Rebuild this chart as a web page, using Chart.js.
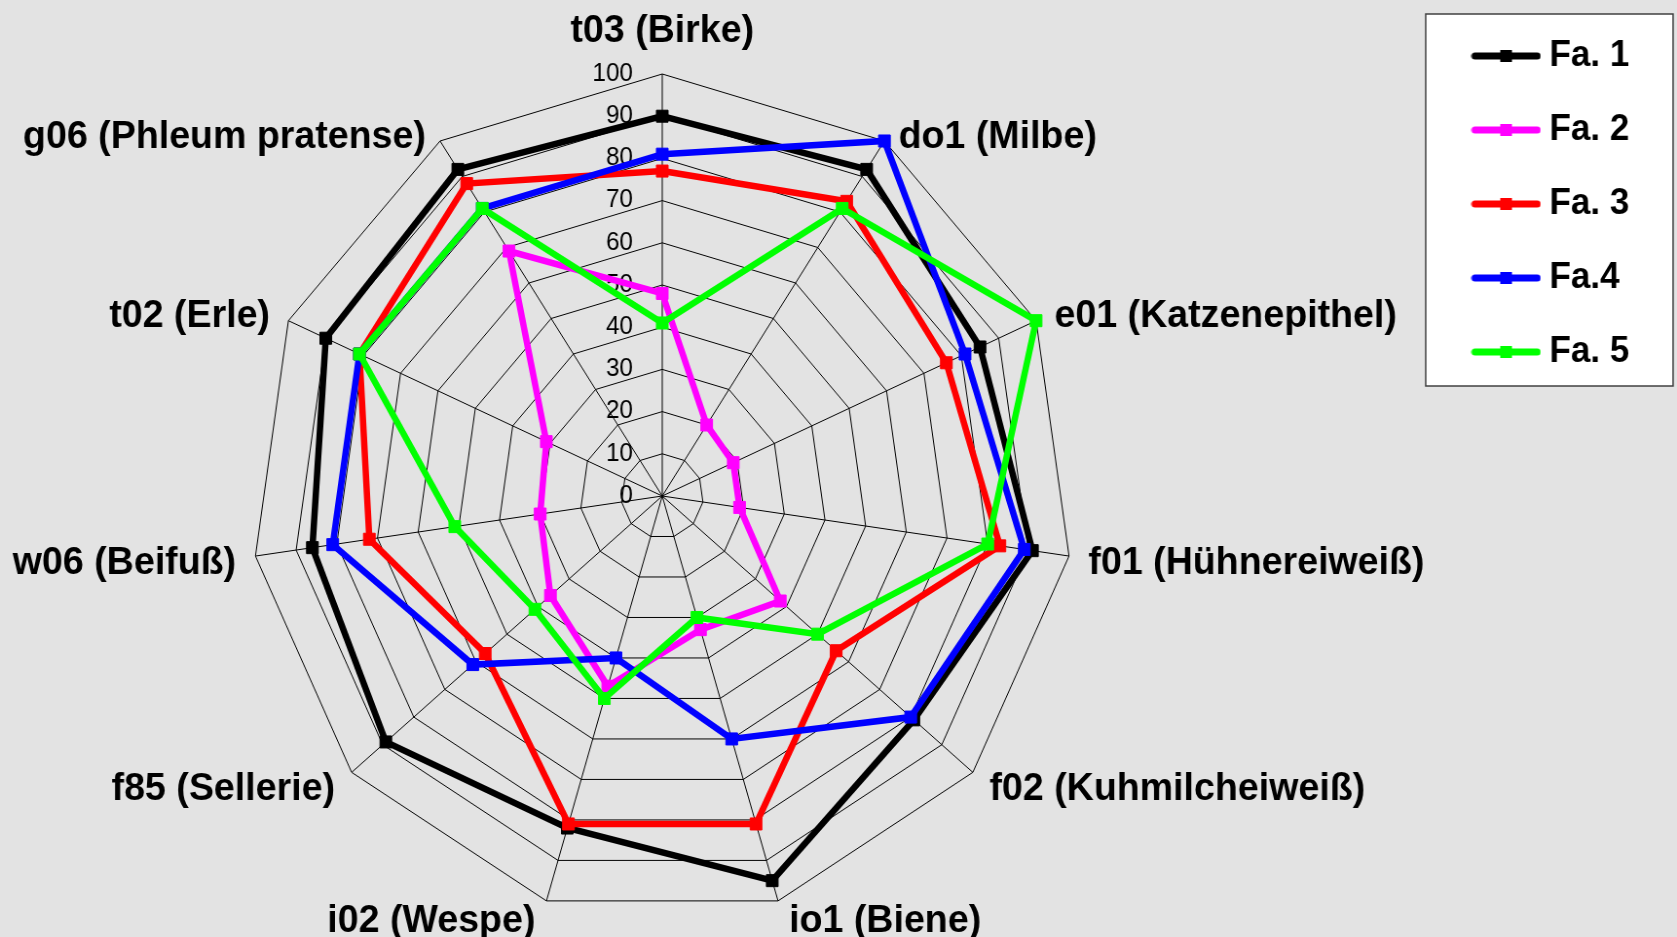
<!DOCTYPE html>
<html>
<head>
<meta charset="utf-8">
<title>Allergene Fa. 1 - 5</title>
<script src="https://cdn.jsdelivr.net/npm/chart.js@4.4.1/dist/chart.umd.min.js"></script>
<style>
  html, body { margin: 0; padding: 0; background: #e3e3e3; overflow: hidden; }
  canvas { display: block; }
</style>
</head>
<body>
<canvas id="myChart" width="1722" height="937" style="width:1677px;height:937px"></canvas>
<script>
const labels = ['t03 (Birke)', 'do1 (Milbe)', 'e01 (Katzenepithel)', 'f01 (Hühnereiweiß)', 'f02 (Kuhmilcheiweiß)',
    'io1 (Biene)', 'i02 (Wespe)', 'f85 (Sellerie)', 'w06 (Beifuß)', 't02 (Erle)', 'g06 (Phleum pratense)'];
const fa1 = [90, 92, 85, 91, 81, 95, 82, 89, 86, 90, 92];
const fa2 = [48, 20, 19, 19, 38, 33, 47, 36, 30, 31, 69];
const fa3 = [77, 83, 76, 83, 56, 81, 81, 57, 72, 81, 88];
const fa4 = [81, 100, 81, 89, 80, 60, 40, 61, 81, 81, 81];
const fa5 = [41, 81, 100, 80, 50, 30, 50, 41, 51, 81, 81];
const seriesNames = ['Fa. 1', 'Fa. 2', 'Fa. 3', 'Fa.4', 'Fa. 5'];
const seriesColors = ['#000000', '#ff00ff', '#ff0000', '#0000ff', '#00ff00'];
const seriesValues = [fa1, fa2, fa3, fa4, fa5];

// the original is a bit squeezed sideways, so the canvas is drawn wider and scaled down by css
const CX = 680, CY = 496, RADIUS = 422;
const FONT = "'Liberation Sans', Arial, sans-serif";

// legend sample: thick line with the square marker in the middle
function legendIcon(color) {
    const c = document.createElement('canvas');
    c.width = 72;
    c.height = 16;
    const g = c.getContext('2d');
    g.strokeStyle = color;
    g.lineWidth = 7;
    g.lineCap = 'round';
    g.beginPath();
    g.moveTo(4, 8);
    g.lineTo(68, 8);
    g.stroke();
    g.fillStyle = color;
    g.fillRect(30, 2, 12, 12);
    return c;
}

const radarFrame = {
    id: 'radarFrame',
    beforeLayout(chart) {
        // keep the web at a fixed place like in the original
        chart.scales.r.setCenterPoint = function() {
            this.xCenter = CX;
            this.yCenter = CY;
            this.drawingArea = RADIUS;
        };
    },
    beforeDraw(chart) {
        const ctx = chart.ctx;
        const lg = chart.legend;
        ctx.save();
        ctx.fillStyle = '#ffffff';
        ctx.strokeStyle = '#404040';
        ctx.lineWidth = 1.5;
        ctx.fillRect(lg.left - 18, 14, 254, 372);
        ctx.strokeRect(lg.left - 18, 14, 254, 372);
        ctx.restore();
    },
    beforeDatasetsDraw(chart) {
        // tick labels left of the top axis, the 0 included
        const s = chart.scales.r;
        const ctx = chart.ctx;
        ctx.save();
        ctx.font = '25px ' + FONT;
        ctx.fillStyle = '#000';
        ctx.textAlign = 'right';
        ctx.textBaseline = 'middle';
        s.ticks.forEach(function(t) {
            ctx.fillText(String(t.value), s.xCenter - 30, s.yCenter - s.getDistanceFromCenterForValue(t.value));
        });
        ctx.restore();
    },
    afterDraw(chart) {
        const s = chart.scales.r;
        const ctx = chart.ctx;
        ctx.save();
        ctx.font = 'bold 38.6px ' + FONT;
        ctx.fillStyle = '#000';
        ctx.textBaseline = 'middle';
        labels.forEach(function(text, i) {
            const a = s.getIndexAngle(i);
            const sin = Math.sin(a), cos = Math.cos(a);
            const p = s.getPointPosition(i, s.drawingArea);
            let x = p.x, y = p.y + 4;
            if (Math.abs(sin) < 0.01) {
                ctx.textAlign = 'center';
                y -= 47;
            } else {
                ctx.textAlign = sin > 0 ? 'left' : 'right';
                x += Math.sign(sin) * (8 + 12 * Math.abs(sin));
                y += Math.min(16, Math.max(-8, -20 * cos));
            }
            ctx.fillText(text, x, y);
        });
        ctx.restore();
    }
};

const ctx = document.getElementById('myChart');
new Chart(ctx, {
    type: 'radar',
    data: {
        labels: labels,
        datasets: seriesValues.map(function(d, i) {
            return {
                label: seriesNames[i],
                data: d,
                borderColor: seriesColors[i],
                backgroundColor: seriesColors[i],
                pointBackgroundColor: seriesColors[i],
                pointBorderColor: seriesColors[i],
                borderWidth: 6.5,
                pointStyle: 'rect',
                pointRadius: 8.5,
                pointBorderWidth: 1,
                fill: false,
                tension: 0,
                clip: false,
                order: seriesValues.length - i
            };
        })
    },
    options: {
        responsive: false,
        devicePixelRatio: 1,
        animation: false,
        layout: { padding: { right: 39 } },
        scales: {
            r: {
                min: 0,
                max: 100,
                ticks: { display: false, stepSize: 10 },
                grid: { color: '#000', lineWidth: 1 },
                angleLines: { color: '#000', lineWidth: 1 },
                pointLabels: { display: false }
            }
        },
        plugins: {
            tooltip: { enabled: false },
            legend: {
                position: 'right',
                align: 'start',
                labels: {
                    usePointStyle: true,
                    pointStyleWidth: 53,
                    padding: 38,
                    color: '#000',
                    font: { family: FONT, size: 36, weight: 'bold' },
                    sort: function(a, b) { return a.datasetIndex - b.datasetIndex; },
                    generateLabels: function(chart) {
                        const items = Chart.defaults.plugins.legend.labels.generateLabels(chart);
                        items.forEach(function(it) {
                            it.pointStyle = legendIcon(seriesColors[it.datasetIndex]);
                        });
                        return items;
                    }
                }
            }
        }
    },
    plugins: [radarFrame]
});
</script>
</body>
</html>
